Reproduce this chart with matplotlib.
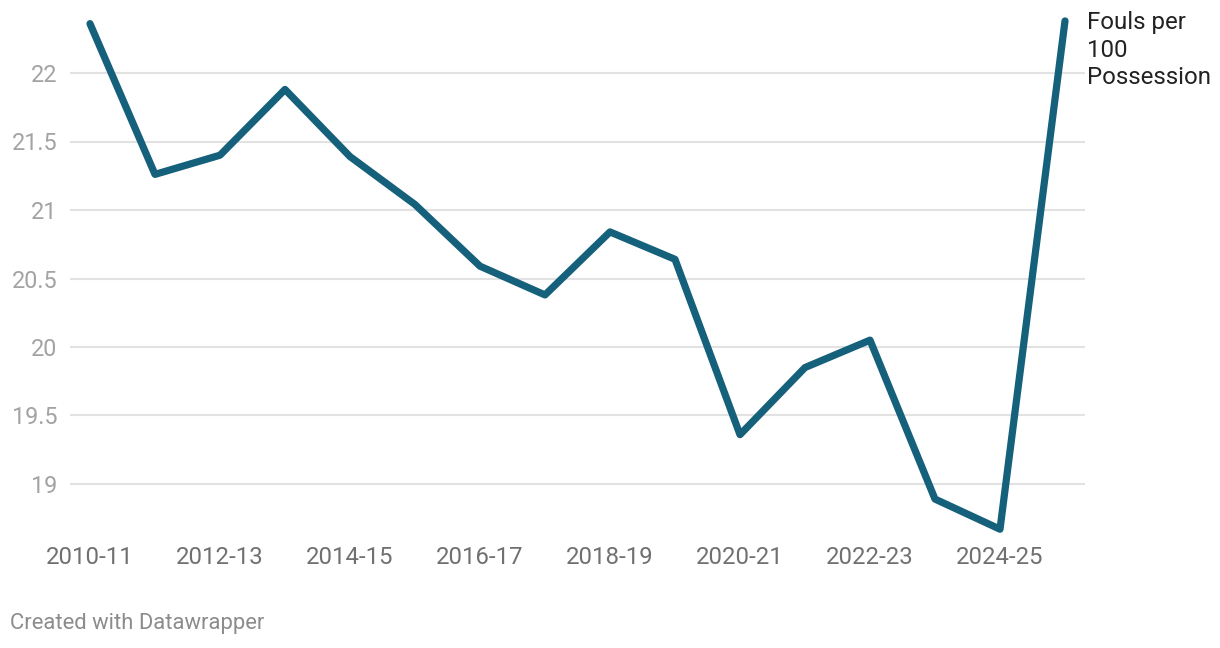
import matplotlib
matplotlib.use("Agg")
import matplotlib.pyplot as plt

plt.rcParams['font.family'] = ['Roboto', 'DejaVu Sans']

seasons = ['2010-11', '2011-12', '2012-13', '2013-14', '2014-15', '2015-16',
           '2016-17', '2017-18', '2018-19', '2019-20', '2020-21', '2021-22',
           '2022-23', '2023-24', '2024-25', '2025-26']
fouls = [22.36, 21.26, 21.40, 21.88, 21.39, 21.04, 20.59, 20.38,
         20.84, 20.64, 19.36, 19.85, 20.05, 18.89, 18.67, 22.38]
yticks = [19, 19.5, 20, 20.5, 21, 21.5, 22]
ytick_labels = ['19', '19.5', '20', '20.5', '21', '21.5', '22']

W, H = 1220, 648
fig = plt.figure(figsize=(W / 100, H / 100), dpi=100)
# axes in pixel terms: left 70, right 1085, top 15, bottom 535
ax = fig.add_axes([70 / W, 1 - 535 / H, (1085 - 70) / W, (535 - 15) / H])

x = list(range(len(seasons)))
ax.plot(x, fouls, color='#15607a', linewidth=5.2,
        solid_capstyle='round', solid_joinstyle='round', zorder=3)

ax.set_xlim(-20 / 65, len(seasons) - 1 + 20 / 65)
ax.set_ylim(22 - 462 / 137, 22 + 58 / 137)

ax.set_yticks(yticks)
ax.set_yticklabels(ytick_labels)
ax.set_xticks(x[::2])
ax.set_xticklabels(seasons[::2])

ax.grid(axis='y', color='#e2e2e2', linewidth=1.5)
ax.set_axisbelow(True)
for s in ax.spines.values():
    s.set_visible(False)
ax.tick_params(axis='y', length=0, pad=9, labelsize=16.8, labelcolor='#a3a3a3')
ax.tick_params(axis='x', length=0, pad=8, labelsize=17.2, labelcolor='#707070')

ax.annotate('Fouls per\n100\nPossession', xy=(1087 / W, 1 - 11 / H),
            xycoords='figure fraction', ha='left', va='top',
            fontsize=17.3, color='#222222', linespacing=1.26)

fig.text(10 / W, 1 - 624 / H, 'Created with Datawrapper', ha='left',
         va='center', fontsize=15.8, color='#8c8c8c')

fig.savefig('out.png', dpi=100)
